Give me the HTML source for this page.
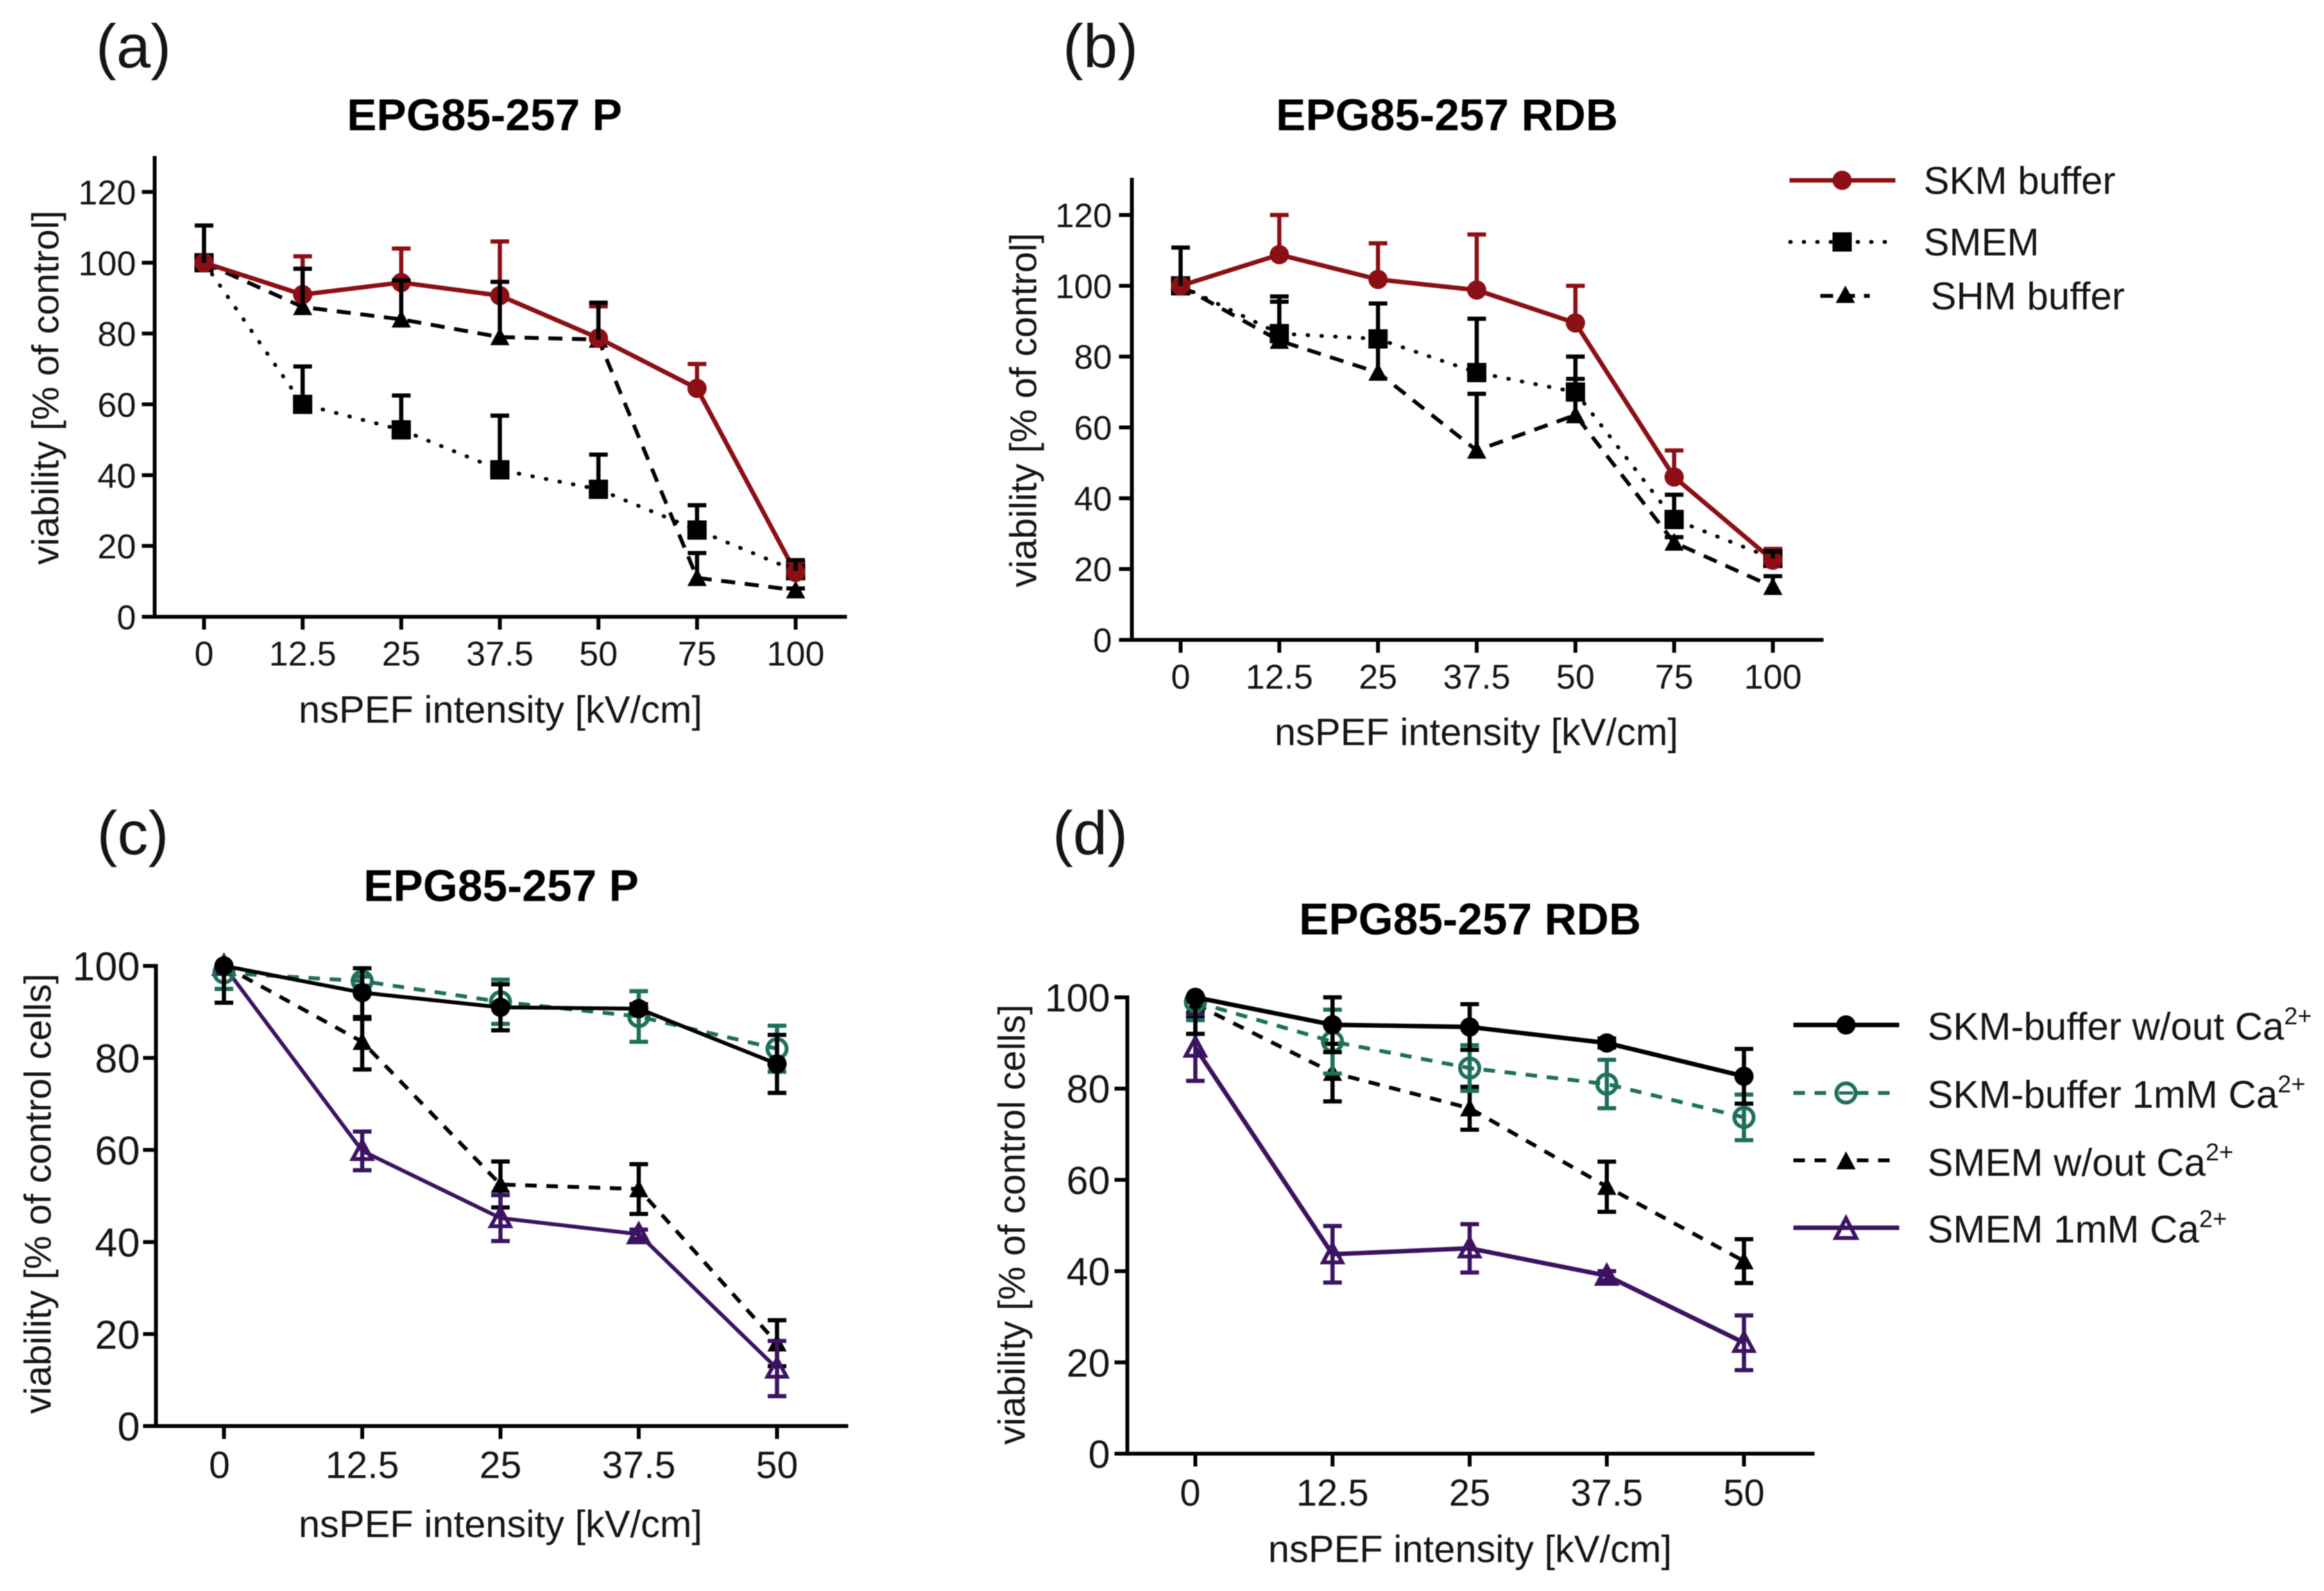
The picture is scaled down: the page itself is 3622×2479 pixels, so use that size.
<!DOCTYPE html>
<html lang="en">
<head>
<meta charset="utf-8">
<title>EPG85-257 viability panels</title>
<style>
html,body{margin:0;padding:0;background:#fff;}
svg{display:block;filter:blur(0.8px);}
text{font-family:"Liberation Sans",Arial,sans-serif;fill:#151515;}
.pl{font-size:96px;}
.ti{font-size:69.5px;font-weight:bold;text-anchor:middle;fill:#000;}
.xl{font-size:59.6px;text-anchor:middle;}
.yl{font-size:58.8px;text-anchor:middle;}
.lg{font-size:60px;}
.lgs{font-size:38px;}
</style>
</head>
<body>
<svg id="figure" xmlns="http://www.w3.org/2000/svg" width="3622" height="2479" viewBox="0 0 3622 2479">
<rect width="3622" height="2479" fill="#fff"/>

<text class="pl" x="208" y="105" text-anchor="middle">(a)</text>
<text class="pl" x="1715" y="105" text-anchor="middle">(b)</text>
<text class="pl" x="207" y="1331" text-anchor="middle">(c)</text>
<text class="pl" x="1699" y="1331" text-anchor="middle">(d)</text>

<text class="ti" x="755" y="203">EPG85-257 P</text>
<text class="ti" x="2255" y="203">EPG85-257 RDB</text>
<text class="ti" x="781" y="1404">EPG85-257 P</text>
<text class="ti" x="2291" y="1456">EPG85-257 RDB</text>

<text class="xl" x="780" y="1126">nsPEF intensity [kV/cm]</text>
<text class="xl" x="2301" y="1161">nsPEF intensity [kV/cm]</text>
<text class="xl" x="780" y="2395">nsPEF intensity [kV/cm]</text>
<text class="xl" x="2291" y="2434">nsPEF intensity [kV/cm]</text>

<text class="yl" transform="translate(91 604) rotate(-90)">viability [% of control]</text>
<text class="yl" transform="translate(1615 639) rotate(-90)">viability [% of control]</text>
<text class="yl" transform="translate(79 1860) rotate(-90)">viability [% of control cells]</text>
<text class="yl" transform="translate(1597 1908) rotate(-90)">viability [% of control cells]</text>

<g>
  <g>
    <line x1="2789" y1="281" x2="2954" y2="281" stroke="#8b0f14" stroke-width="7"/>
    <circle cx="2871" cy="281" r="15" fill="#8b0f14"/>
    <text class="lg" x="2998" y="302">SKM buffer</text>
  </g>
  <g>
    <line x1="2790" y1="377" x2="2946" y2="377" stroke="#000" stroke-width="6" stroke-linecap="round" stroke-dasharray="1 20"/>
    <rect x="2856" y="362" width="30" height="30" fill="#000"/>
    <text class="lg" x="2998" y="398">SMEM</text>
  </g>
  <g>
    <line x1="2837" y1="461" x2="2914" y2="461" stroke="#000" stroke-width="6" stroke-dasharray="20 14"/>
    <path d="M2876 445 L2891 472 L2861 472 Z" fill="#000"/>
    <text class="lg" x="3009" y="482">SHM buffer</text>
  </g>
</g>

<g>
  <g>
    <line x1="2795" y1="1597" x2="2960" y2="1597" stroke="#000" stroke-width="7"/>
    <circle cx="2877" cy="1597" r="15" fill="#000"/>
    <text class="lg" x="3004" y="1620">SKM-buffer w/out Ca<tspan class="lgs" dy="-24">2+</tspan></text>
  </g>
  <g>
    <line x1="2795" y1="1703" x2="2960" y2="1703" stroke="#1e6f5c" stroke-width="6" stroke-dasharray="18 15"/>
    <circle cx="2877" cy="1703" r="15" fill="#fff" stroke="#1e6f5c" stroke-width="6"/>
    <line x1="2866" y1="1703" x2="2888" y2="1703" stroke="#1e6f5c" stroke-width="5"/>
    <text class="lg" x="3004" y="1726">SKM-buffer 1mM Ca<tspan class="lgs" dy="-24">2+</tspan></text>
  </g>
  <g>
    <line x1="2795" y1="1808" x2="2960" y2="1808" stroke="#000" stroke-width="6" stroke-dasharray="18 15"/>
    <rect x="2860" y="1796" width="34" height="26" fill="#fff"/>
    <path d="M2877 1794 L2892 1822 L2862 1822 Z" fill="#000"/>
    <text class="lg" x="3004" y="1832">SMEM w/out Ca<tspan class="lgs" dy="-24">2+</tspan></text>
  </g>
  <g>
    <line x1="2795" y1="1913" x2="2960" y2="1913" stroke="#3c1361" stroke-width="7"/>
    <path d="M2877 1898 L2893 1929 L2861 1929 Z" fill="none" stroke="#3c1361" stroke-width="6"/>
    <text class="lg" x="3004" y="1936">SMEM 1mM Ca<tspan class="lgs" dy="-24">2+</tspan></text>
  </g>
</g>
</svg>

<script>
// ---- chart data ----
const categoriesTop = ['0', '12.5', '25', '37.5', '50', '75', '100'];
const categoriesBottom = ['0', '12.5', '25', '37.5', '50'];
const yTicksTop = [0, 20, 40, 60, 80, 100, 120];
const yTicksBottom = [0, 20, 40, 60, 80, 100];

const panelASkmValues = [100, 91, 94.4, 90.7, 78.7, 64.5, 12.5];
const panelASkmErrors = [0, 10.8, 9.6, 15.3, 9, 6.9, 3];
const panelASmemValues = [100, 60, 52.8, 41.5, 36, 24.5, 13];
const panelASmemErrors = [10.5, 10.7, 9.7, 15.3, 9.8, 7, 3];
const panelAShmValues = [100, 87.5, 84, 79, 78.3, 11, 7.5];
const panelAShmErrors = [0, 10.8, 11, 15.6, 10.4, 7, 0.5];

const panelBSkmValues = [100, 108.8, 101.8, 98.8, 89.5, 46, 22.5];
const panelBSkmErrors = [0, 11.2, 10.2, 15.7, 10.5, 7.5, 3.2];
const panelBSmemValues = [100, 86.5, 85, 75.5, 70, 34, 23];
const panelBSmemErrors = [10.8, 10.5, 10, 15.2, 10, 7, 2];
const panelBShmValues = [100, 84.5, 75.5, 53.5, 63.5, 27.5, 15];
const panelBShmErrors = [0, 11, 9.5, 16, 10.2, 1.5, 3];

const panelCSkmValues = [100, 94.2, 91, 90.7, 78.7];
const panelCSkmUpper = [0, 5.3, 5, 1, 6.3];
const panelCSkmLower = [8, 5.3, 5, 1, 6.3];
const panelCSkmCaValues = [98.5, 96.7, 92.2, 89, 82];
const panelCSkmCaUpper = [0, 1, 4.8, 5.5, 5];
const panelCSkmCaLower = [3.5, 1, 4.8, 5.5, 5];
const panelCSmemValues = [100, 83.5, 52.5, 51.5, 18];
const panelCSmemUpper = [0, 5, 5, 5.4, 5];
const panelCSmemLower = [0, 6, 5, 5.4, 5];
const panelCSmemCaValues = [100, 59.8, 45.2, 41.7, 12.5];
const panelCSmemCaUpper = [0, 4.2, 5, 1, 6];
const panelCSmemCaLower = [0, 4.2, 5, 1, 6];

const panelDSkmValues = [100, 94, 93.5, 90, 82.7];
const panelDSkmUpper = [0, 6, 5, 1, 6];
const panelDSkmLower = [8, 6, 5, 1, 6];
const panelDSkmCaValues = [99, 90.3, 84.5, 81, 73.7];
const panelDSkmCaUpper = [0, 7, 5, 5.3, 5];
const panelDSkmCaLower = [4, 7, 5, 5.3, 5];
const panelDSmemValues = [98.5, 83.5, 75.7, 58.5, 42.2];
const panelDSmemUpper = [0, 6.3, 4.7, 5.5, 4.8];
const panelDSmemLower = [3, 6.3, 4.7, 5.5, 4.8];
const panelDSmemCaValues = [89, 43.7, 45, 39, 24.3];
const panelDSmemCaUpper = [7.3, 6.2, 5.3, 1, 6];
const panelDSmemCaLower = [7.3, 6.2, 5.3, 1, 6];

// ---- drawing ----
const svgNS = 'http://www.w3.org/2000/svg';
const figure = document.getElementById('figure');
const RED = '#8b0f14', GREEN = '#1e6f5c', PURPLE = '#3c1361', BLACK = '#000';

function make(tag, parent, attrs) {
  const node = document.createElementNS(svgNS, tag);
  for (const k in attrs) node.setAttribute(k, attrs[k]);
  parent.appendChild(node);
  return node;
}

function drawMarker(parent, kind, cx, cy, color, size) {
  const s = size;
  let node;
  if (kind === 'circle') {
    node = make('circle', parent, {cx: cx, cy: cy, r: s, fill: color});
  } else if (kind === 'open-circle') {
    node = make('circle', parent, {cx: cx, cy: cy, r: s, fill: 'none', stroke: color, 'stroke-width': 6});
  } else if (kind === 'square') {
    node = make('rect', parent, {x: cx - s, y: cy - s, width: 2 * s, height: 2 * s, fill: color});
  } else if (kind === 'triangle') {
    node = make('path', parent, {d: 'M' + cx + ' ' + (cy - s) + ' L' + (cx + s) + ' ' + (cy + s * 0.85) + ' L' + (cx - s) + ' ' + (cy + s * 0.85) + ' Z', fill: color});
  } else {
    node = make('path', parent, {d: 'M' + cx + ' ' + (cy - s) + ' L' + (cx + s) + ' ' + (cy + s * 0.85) + ' L' + (cx - s) + ' ' + (cy + s * 0.85) + ' Z', fill: 'none', stroke: color, 'stroke-width': 6});
  }
  return node;
}

function drawPanel(cfg) {
  const g = make('g', figure, {});
  
  

  const maxVal = cfg.yRefValue;
  const yScale = function (v) { return cfg.yZero - (cfg.yZero - cfg.yRef) * v / maxVal; };
  const xScale = function (i) { return cfg.xFirst + (cfg.xLast - cfg.xFirst) * i / (cfg.categories.length - 1); };

  // axes
  const yAxis = make('line', g, {x1: cfg.axisX, x2: cfg.axisX, y1: cfg.axisTop, y2: cfg.yZero + 3, stroke: '#000', 'stroke-width': 6});
  
  
  const xAxis = make('line', g, {x1: cfg.axisX - 3, x2: cfg.xEnd, y1: cfg.yZero, y2: cfg.yZero, stroke: '#000', 'stroke-width': 6});
  
  

  cfg.yTicks.forEach(function (v) {
    const y = yScale(v);
    const tick = make('line', g, {x1: cfg.axisX - cfg.tickLen, x2: cfg.axisX, y1: y, y2: y, stroke: '#000', 'stroke-width': 6});
    
    
    const label = make('text', g, {x: cfg.yLabelRight, y: y + cfg.yFont * 0.36, 'text-anchor': 'end', 'font-size': cfg.yFont});
    label.textContent = String(v);
    
    
  });

  cfg.categories.forEach(function (c, i) {
    const x = xScale(i);
    const tick = make('line', g, {x1: x, x2: x, y1: cfg.yZero, y2: cfg.yZero + cfg.tickLen, stroke: '#000', 'stroke-width': 6});
    
    
    const shift = (c === '0') ? cfg.zeroShift : 0;
    const label = make('text', g, {x: x + shift, y: cfg.xLabelBase, 'text-anchor': 'middle', 'font-size': cfg.xFont});
    label.textContent = c;
    
    
  });

  function drawErrors(s, parent) {
    s.values.forEach(function (v, i) {
      const up = s.upper[i];
      const down = s.lower ? s.lower[i] : 0;
      if (!up && !down) return;
      const x = xScale(i);
      const yTop = yScale(v + up);
      const yBot = yScale(v - down);
      const stem = make('line', parent, {x1: x, x2: x, y1: yTop, y2: yBot, stroke: s.color, 'stroke-width': 6.5});
      
      
      if (up) {
        const capTop = make('line', parent, {x1: x - 14.5, x2: x + 14.5, y1: yTop, y2: yTop, stroke: s.color, 'stroke-width': 6.5});
        
        
      }
      if (down) {
        const capBot = make('line', parent, {x1: x - 14.5, x2: x + 14.5, y1: yBot, y2: yBot, stroke: s.color, 'stroke-width': 6.5});
        
        
      }
    });
  }

  // series
  cfg.series.forEach(function (s) {
    const sg = make('g', g, {});
    
    

    if (!s.errorsOnTop) drawErrors(s, sg);

    const pts = s.values.map(function (v, i) { return xScale(i).toFixed(1) + ',' + yScale(v).toFixed(1); }).join(' ');
    const lineAttrs = {points: pts, fill: 'none', stroke: s.color, 'stroke-width': s.width, 'stroke-linejoin': 'round'};
    if (s.dash) lineAttrs['stroke-dasharray'] = s.dash;
    if (s.round) lineAttrs['stroke-linecap'] = 'round';
    const line = make('polyline', sg, lineAttrs);
    
    

    s.values.forEach(function (v, i) {
      const marker = drawMarker(sg, s.marker, xScale(i), yScale(v), s.color, s.size);
      
      
    });
  });

  cfg.series.forEach(function (s) {
    if (s.errorsOnTop) {
      const eg = make('g', g, {});
      
      
      drawErrors(s, eg);
    }
  });
}

drawPanel({
  id: 'a', categories: categoriesTop, yTicks: yTicksTop, yRefValue: 120,
  yZero: 961, yRef: 299, axisX: 241, axisTop: 243, xEnd: 1320, xFirst: 318, xLast: 1240,
  tickLen: 20, yLabelRight: 212, yFont: 54, xFont: 54, xLabelBase: 1037, zeroShift: 0,
  series: [
    {name: 'shm', values: panelAShmValues, upper: panelAShmErrors, errorsOnTop: true, color: BLACK, marker: 'triangle', size: 15, width: 6, dash: '22 15'},
    {name: 'smem', values: panelASmemValues, upper: panelASmemErrors, errorsOnTop: true, color: BLACK, marker: 'square', size: 15, width: 6, dash: '1 20.5', round: true},
    {name: 'skm', values: panelASkmValues, upper: panelASkmErrors, color: RED, marker: 'circle', size: 15, width: 7}
  ]
});

drawPanel({
  id: 'b', categories: categoriesTop, yTicks: yTicksTop, yRefValue: 120,
  yZero: 997, yRef: 335, axisX: 1764, axisTop: 277, xEnd: 2842, xFirst: 1840, xLast: 2763,
  tickLen: 20, yLabelRight: 1733, yFont: 53, xFont: 54, xLabelBase: 1073, zeroShift: 0,
  series: [
    {name: 'shm', values: panelBShmValues, upper: panelBShmErrors, errorsOnTop: true, color: BLACK, marker: 'triangle', size: 15, width: 6, dash: '22 15'},
    {name: 'smem', values: panelBSmemValues, upper: panelBSmemErrors, errorsOnTop: true, color: BLACK, marker: 'square', size: 15, width: 6, dash: '1 20.5', round: true},
    {name: 'skm', values: panelBSkmValues, upper: panelBSkmErrors, color: RED, marker: 'circle', size: 15, width: 7}
  ]
});

drawPanel({
  id: 'c', categories: categoriesBottom, yTicks: yTicksBottom, yRefValue: 100,
  yZero: 2222, yRef: 1505, axisX: 243, axisTop: 1502, xEnd: 1322, xFirst: 349, xLast: 1211,
  tickLen: 20, yLabelRight: 218, yFont: 63, xFont: 59, xLabelBase: 2303, zeroShift: -7,
  series: [
    {name: 'smem-no-calcium', values: panelCSmemValues, upper: panelCSmemUpper, lower: panelCSmemLower, color: BLACK, marker: 'triangle', size: 15, width: 6, dash: '18 15'},
    {name: 'smem-calcium', values: panelCSmemCaValues, upper: panelCSmemCaUpper, lower: panelCSmemCaLower, color: PURPLE, marker: 'open-triangle', size: 15, width: 6},
    {name: 'skm-calcium', values: panelCSkmCaValues, upper: panelCSkmCaUpper, lower: panelCSkmCaLower, color: GREEN, marker: 'open-circle', size: 15, width: 6, dash: '18 15'},
    {name: 'skm-no-calcium', values: panelCSkmValues, upper: panelCSkmUpper, lower: panelCSkmLower, color: BLACK, marker: 'circle', size: 15, width: 6}
  ]
});

drawPanel({
  id: 'd', categories: categoriesBottom, yTicks: yTicksBottom, yRefValue: 100,
  yZero: 2265, yRef: 1554, axisX: 1757, axisTop: 1551, xEnd: 2828, xFirst: 1863, xLast: 2718,
  tickLen: 20, yLabelRight: 1730, yFont: 61, xFont: 58, xLabelBase: 2346, zeroShift: -8,
  series: [
    {name: 'smem-no-calcium', values: panelDSmemValues, upper: panelDSmemUpper, lower: panelDSmemLower, color: BLACK, marker: 'triangle', size: 15, width: 6, dash: '18 15'},
    {name: 'smem-calcium', values: panelDSmemCaValues, upper: panelDSmemCaUpper, lower: panelDSmemCaLower, color: PURPLE, marker: 'open-triangle', size: 15, width: 7},
    {name: 'skm-calcium', values: panelDSkmCaValues, upper: panelDSkmCaUpper, lower: panelDSkmCaLower, color: GREEN, marker: 'open-circle', size: 15, width: 6, dash: '18 15'},
    {name: 'skm-no-calcium', values: panelDSkmValues, upper: panelDSkmUpper, lower: panelDSkmLower, color: BLACK, marker: 'circle', size: 15, width: 7}
  ]
});
</script>
</body>
</html>
